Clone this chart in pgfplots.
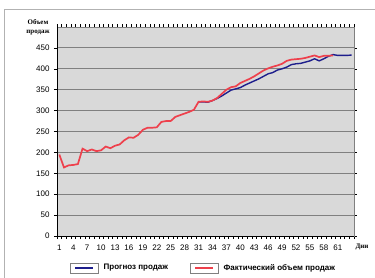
\documentclass[border=0pt]{standalone}
\usepackage{fontspec}
\setmainfont{Liberation Sans}
\newfontfamily\serifb{Liberation Serif}
\usepackage{pgfplots}
\pgfplotsset{compat=1.18}
\definecolor{fcblue}{RGB}{30,30,140}
\definecolor{fcred}{RGB}{238,64,76}
\definecolor{plotbg}{RGB}{217,217,217}
\definecolor{gridc}{RGB}{128,128,128}
\begin{document}
\begin{tikzpicture}[x=1pt,y=1pt]
\useasboundingbox (0,0) rectangle (375,277);
\draw[gray!60, line width=0.8pt] (4.5,-10) rectangle (390,268);
\begin{axis}[
  at={(57pt,41pt)}, anchor=south west,
  width=297pt, height=209pt, scale only axis,
  xmin=0.5, xmax=64.5, ymin=0, ymax=500,
  ytick={0,50,...,450},
  xtick={1,4,...,61},
  minor xtick={0.5,1.5,...,64.5},
  ymajorgrids, grid style={gridc, line width=1pt},
  axis background/.style={fill=plotbg},
  axis line style={gridc, line width=0.8pt},
  tick align=outside,
  major x tick style={draw=none},
  minor x tick style={black, line width=0.5pt},
  major y tick style={black, line width=0.5pt},
  minor tick length=3pt, major tick length=3pt,
  ticklabel style={font=\fontsize{8}{9}\selectfont},
  /pgf/number format/assume math mode=true,
  xticklabel style={yshift=-2pt},
  yticklabel style={xshift=-1pt},
  clip=false,
  legend style={at={(0.044,-0.153)}, anchor=west, draw=none, fill=none,
    inner sep=0pt, outer sep=0pt,
    font=\bfseries\fontsize{8}{9}\selectfont, legend columns=2,
    /tikz/every even column/.append style={column sep=20pt},
    /tikz/every odd column/.append style={column sep=3pt}},
  legend image code/.code={%
    \draw[gray, fill=white, line width=0.6pt, solid] (0pt,-5pt) rectangle (28pt,5pt);
    \draw[#1] (5pt,0pt) -- (23pt,0pt);},
]
\addplot[fcblue, line width=1.4pt] coordinates {
(31,321)(32,321)(33,320)(34,324)(35,329)(36,335)(37,342)(38,349)(39,352)(40,355)
(41,361)(42,366)(43,371)(44,376)(45,382)(46,388)(47,391)(48,397)(49,400)(50,404)
(51,410)(52,412)(53,413)(54,416)(55,419)(56,424)(57,419)(58,424)(59,430)(60,434)
(61,432)(62,432)(63,432)(64,433)};
\addlegendentry{Прогноз продаж}
\addplot[fcred, line width=1.7pt] coordinates {
(1,195)(2,164)(3,169)(4,170)(5,172)(6,209)(7,203)(8,207)(9,203)(10,205)
(11,214)(12,210)(13,216)(14,219)(15,229)(16,236)(17,235)(18,242)(19,254)(20,259)
(21,259)(22,260)(23,273)(24,275)(25,275)(26,285)(27,289)(28,293)(29,297)(30,302)
(31,321)(32,322)(33,321)(34,324)(35,330)(36,340)(37,350)(38,356)(39,358)(40,366)
(41,371)(42,376)(43,382)(44,389)(45,396)(46,401)(47,405)(48,408)(49,412)(50,419)
(51,422)(52,423)(53,424)(54,426)(55,429)(56,432)(57,428)(58,431)(59,431)(60,432)};
\addlegendentry{Фактический объем продаж}
\draw[black, line width=0.8pt] (axis description cs:0,0) -- (axis description cs:1,0);
\draw[black, line width=0.8pt] (axis description cs:0,0) -- (axis description cs:0,1);
\end{axis}
\node[font=\serifb\bfseries\fontsize{7}{8.5}\selectfont, align=center] at (38,250) {Объем\\продаж};
\node[font=\serifb\bfseries\fontsize{7}{8.5}\selectfont] at (362,30) {Дни};
\end{tikzpicture}
\end{document}
